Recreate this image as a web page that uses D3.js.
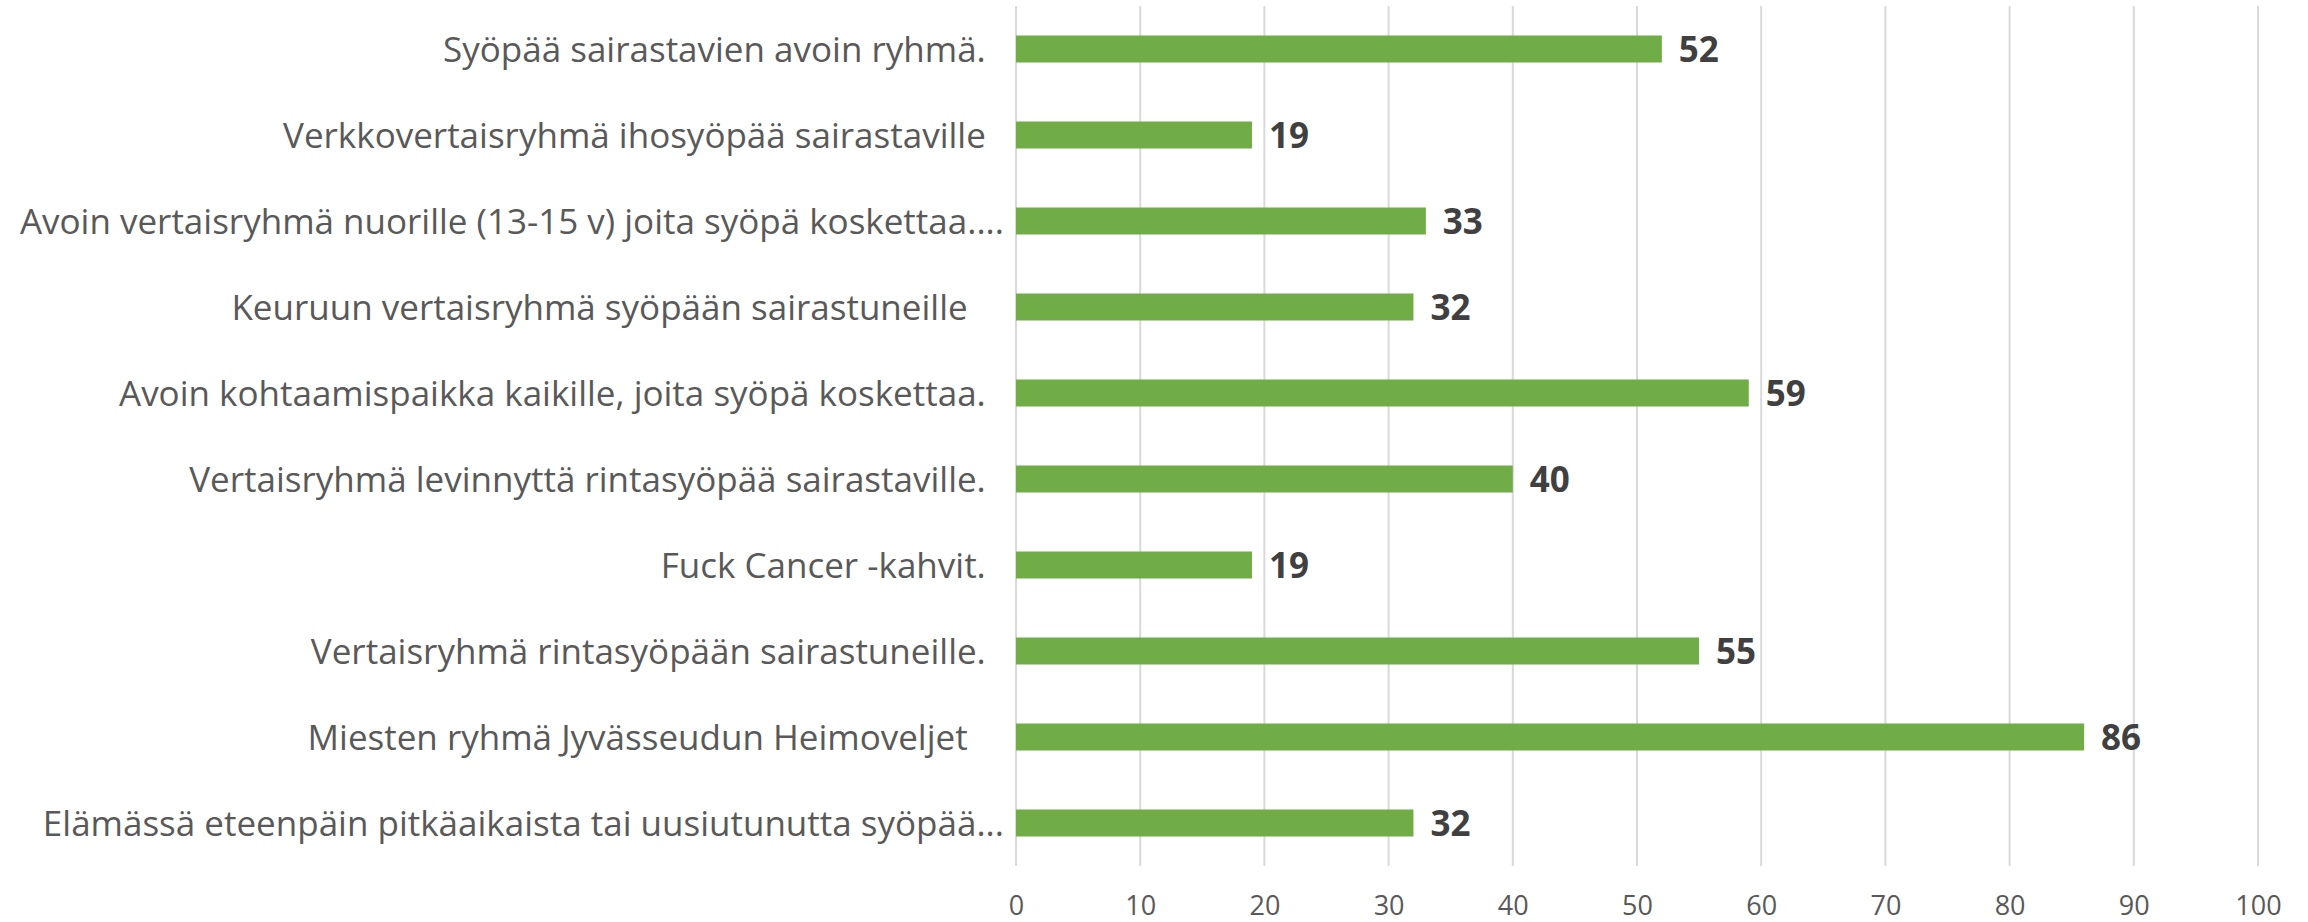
<!DOCTYPE html>
<html>
<head>
<meta charset="utf-8">
<script src="https://cdn.jsdelivr.net/npm/d3@7"></script>
<style>
  html, body { margin: 0; padding: 0; background: #fff; }
  svg { display: block; font-family: "Open Sans", sans-serif; }
  .cat { white-space: pre; }
</style>
</head>
<body>
<div class="container"></div>
<script>
// DATA - top to bottom as in the chart
const categories = [
  "Syöpää sairastavien avoin ryhmä.  ",
  "Verkkovertaisryhmä ihosyöpää sairastaville  ",
  "Avoin vertaisryhmä nuorille (13-15 v) joita syöpä koskettaa....",
  "Keuruun vertaisryhmä syöpään sairastuneille    ",
  "Avoin kohtaamispaikka kaikille, joita syöpä koskettaa.  ",
  "Vertaisryhmä levinnyttä rintasyöpää sairastaville.  ",
  "Fuck Cancer -kahvit.  ",
  "Vertaisryhmä rintasyöpään sairastuneille.  ",
  "Miesten ryhmä Jyvässeudun Heimoveljet    ",
  "Elämässä eteenpäin pitkäaikaista tai uusiutunutta syöpää..."
];
const values = [52, 19, 33, 32, 59, 40, 19, 55, 86, 32];
const tickValues = [0, 10, 20, 30, 40, 50, 60, 70, 80, 90, 100];

// SETUP
const width = 2308;
const height = 922;

const svg = d3.select(".container")
    .append("svg")
    .attr("width", width)
    .attr("height", height);

const xScale = d3.scaleLinear()
    .domain([0, 100])
    .range([1016, 2258]);

// bands over the plot height, bar is the thin middle part
const yScale = d3.scaleBand()
    .domain(categories)
    .range([6, 866])
    .paddingInner(0.686)
    .paddingOuter(0.343);

// gridlines
svg.append("g")
    .selectAll("line")
    .data(tickValues)
    .join("line")
    .attr("x1", d => xScale(d))
    .attr("x2", d => xScale(d))
    .attr("y1", 6)
    .attr("y2", 866)
    .attr("stroke", "#d9d9d9")
    .attr("stroke-width", 2);

// x axis labels
const xAxis = d3.axisBottom(xScale)
    .tickValues(tickValues)
    .tickSize(0)
    .tickPadding(0);

const axisG = svg.append("g")
    .attr("transform", "translate(0,896)")
    .call(xAxis);
axisG.select(".domain").remove();
axisG.selectAll("text")
    .attr("font-family", "Open Sans, sans-serif")
    .attr("font-size", 27)
    .attr("fill", "#595959");

// bars
svg.append("g")
    .selectAll("rect")
    .data(values)
    .join("rect")
    .attr("x", xScale(0))
    .attr("y", (d, i) => yScale(categories[i]))
    .attr("width", d => xScale(d) - xScale(0))
    .attr("height", yScale.bandwidth())
    .attr("fill", "#70ad47");

// value labels
svg.append("g")
    .selectAll("text")
    .data(values)
    .join("text")
    .attr("x", d => xScale(d) + 17)
    .attr("y", (d, i) => yScale(categories[i]) + yScale.bandwidth() / 2)
    .attr("dy", "0.36em")
    .attr("font-size", 35)
    .attr("font-weight", "bold")
    .attr("fill", "#404040")
    .text(d => d);

// category labels
svg.append("g")
    .selectAll("text")
    .data(categories)
    .join("text")
    .attr("class", "cat")
    .attr("x", 1004)
    .attr("y", d => yScale(d) + yScale.bandwidth() / 2)
    .attr("dy", "0.36em")
    .attr("text-anchor", "end")
    .attr("font-size", 35)
    .attr("fill", "#595959")
    .text(d => d);
</script>
</body>
</html>
